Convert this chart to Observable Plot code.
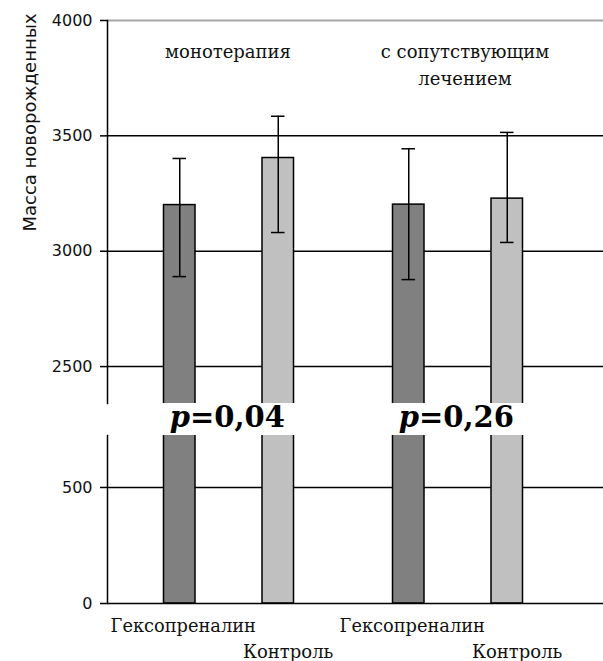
<!DOCTYPE html>
<html>
<head>
<meta charset="utf-8">
<script src="https://cdn.jsdelivr.net/npm/d3@7"></script>
<script src="https://cdn.jsdelivr.net/npm/@observablehq/plot@0.6"></script>
<style>
  html, body { margin: 0; padding: 0; background: #fff; }
  #chart { position: relative; width: 603px; height: 661px; background: #fff; overflow: hidden; }
  #chart svg { position: absolute; left: 0; }
</style>
</head>
<body>
<div id="chart"></div>
<script>
// ---- data ----
const groups = ["монотерапия", "с сопутствующим\nлечением"];
const treatments = ["Гексопреналин", "Контроль"];
const meanHex = [3200, 3202];
const meanCtrl = [3404, 3228];
const lowHex = [2890, 2877];
const highHex = [3402, 3444];
const lowCtrl = [3081, 3038];
const highCtrl = [3585, 3515];
const pValues = ["0,04", "0,26"];
const upperTicks = [4000, 3500, 3000, 2500];
const upperGrid = [3500, 3000, 2500];
const lowerTicks = [500, 0];
const lowerGrid = [500];
const yTitle = "Масса новорожденных";

// ---- tables ----
const hex = groups.map((g, i) => ({group: g, value: meanHex[i], low: lowHex[i], high: highHex[i]}));
const ctrl = groups.map((g, i) => ({group: g, value: meanCtrl[i], low: lowCtrl[i], high: highCtrl[i]}));
const capsOf = rows => rows.flatMap(r => [{group: r.group, v: r.low}, {group: r.group, v: r.high}]);
const pRows = groups.map((g, i) => ({group: g, p: "p", rest: "=" + pValues[i]}));
const hexLabels = groups.map(g => ({group: g, label: treatments[0]}));
const ctrlLabels = groups.map(g => ({group: g, label: treatments[1]}));

// ---- styling ----
const W = 603;
const OFF = 49.25;      // half distance between paired bars
const BAR_INSET = 98.75;
const CAP_INSET = 107.75;
const DARK = "#808080", LIGHT = "#c0c0c0", INK = "#111";
const xScale = {domain: groups, range: [113.75, 572.75], padding: 0, axis: null};
const serif = "DejaVu Serif";
const sans = "DejaVu Sans";

function bars() {
  return [
    Plot.barY(hex, {x: "group", y: "value", fill: DARK, stroke: "#000", strokeWidth: 1.5,
      insetLeft: BAR_INSET, insetRight: BAR_INSET, dx: -OFF, clip: true}),
    Plot.barY(ctrl, {x: "group", y: "value", fill: LIGHT, stroke: "#000", strokeWidth: 1.5,
      insetLeft: BAR_INSET, insetRight: BAR_INSET, dx: OFF, clip: true})
  ];
}

function groupLabel(i, dx) {
  return Plot.text([{group: groups[i]}], {x: "group", text: "group", frameAnchor: "top",
    textAnchor: "middle", lineAnchor: "top", lineHeight: 1.5, dy: 18, dx,
    fontFamily: serif, fontSize: 18, fill: INK});
}

const upper = Plot.plot({
  width: W, height: 440,
  marginLeft: 107, marginRight: 0, marginTop: 20, marginBottom: 37,
  x: xScale,
  y: {domain: [2340, 4000], axis: null},
  style: {background: "transparent", fontFamily: sans, overflow: "visible"},
  marks: [
    Plot.ruleY([4000], {stroke: "#a6a6a6", strokeWidth: 2}),
    Plot.ruleY(upperGrid, {stroke: "#000", strokeWidth: 1.5}),
    ...bars(),
    Plot.ruleX(hex, {x: "group", y1: "low", y2: "high", dx: -OFF, stroke: "#000", strokeWidth: 1.5}),
    Plot.ruleX(ctrl, {x: "group", y1: "low", y2: "high", dx: OFF, stroke: "#000", strokeWidth: 1.5}),
    Plot.tickY(capsOf(hex), {x: "group", y: "v", dx: -OFF, insetLeft: CAP_INSET, insetRight: CAP_INSET, stroke: "#000", strokeWidth: 1.5}),
    Plot.tickY(capsOf(ctrl), {x: "group", y: "v", dx: OFF, insetLeft: CAP_INSET, insetRight: CAP_INSET, stroke: "#000", strokeWidth: 1.5}),
    Plot.frame({anchor: "left", stroke: "#000", strokeWidth: 1.5}),
    Plot.axisY({ticks: upperTicks, tickFormat: "d", tickSize: 7, tickPadding: 8, label: null,
      fontSize: 16, fontFamily: sans, fill: INK, stroke: "#000", strokeWidth: 1.5}),
    groupLabel(0, -1),
    groupLabel(1, 7),
    Plot.text(pRows, {x: "group", text: "p", frameAnchor: "bottom", textAnchor: "end", dx: -39,
      dy: 23, fontFamily: serif, fontWeight: "bold", fontStyle: "italic", fontSize: 29, fill: "#000"}),
    Plot.text(pRows, {x: "group", text: "rest", frameAnchor: "bottom", textAnchor: "start", dx: -39,
      dy: 23, fontFamily: serif, fontWeight: "bold", fontSize: 29, fill: "#000"}),
    Plot.text([yTitle], {text: d => d, frameAnchor: "top-left", textAnchor: "middle", rotate: -90,
      dx: -84, dy: 102, fontFamily: sans, fontSize: 18, fill: INK})
  ]
});
upper.style.top = "0px";

const lower = Plot.plot({
  width: W, height: 231,
  marginLeft: 107, marginRight: 0, marginTop: 5, marginBottom: 58,
  x: xScale,
  y: {domain: [0, 724], axis: null},
  style: {background: "transparent", fontFamily: sans, overflow: "visible"},
  marks: [
    Plot.ruleY(lowerGrid, {stroke: "#000", strokeWidth: 1.5}),
    ...bars(),
    Plot.ruleY([0], {stroke: "#000", strokeWidth: 1.5}),
    Plot.frame({anchor: "left", stroke: "#000", strokeWidth: 1.5}),
    Plot.axisY({ticks: lowerTicks, tickFormat: "d", tickSize: 7, tickPadding: 8, label: null,
      fontSize: 16, fontFamily: sans, fill: INK, stroke: "#000", strokeWidth: 1.5}),
    Plot.text(hexLabels, {x: "group", text: "label", frameAnchor: "bottom", lineAnchor: "top",
      dx: -45.75, dy: 16, fontFamily: serif, fontSize: 17.8, fill: INK}),
    Plot.text(ctrlLabels, {x: "group", text: "label", frameAnchor: "bottom", lineAnchor: "top",
      dx: 59.25, dy: 42, fontFamily: serif, fontSize: 18, fill: INK})
  ]
});
lower.style.top = "430px";

const chart = document.getElementById("chart");
chart.appendChild(upper);
chart.appendChild(lower);
</script>
</body>
</html>
